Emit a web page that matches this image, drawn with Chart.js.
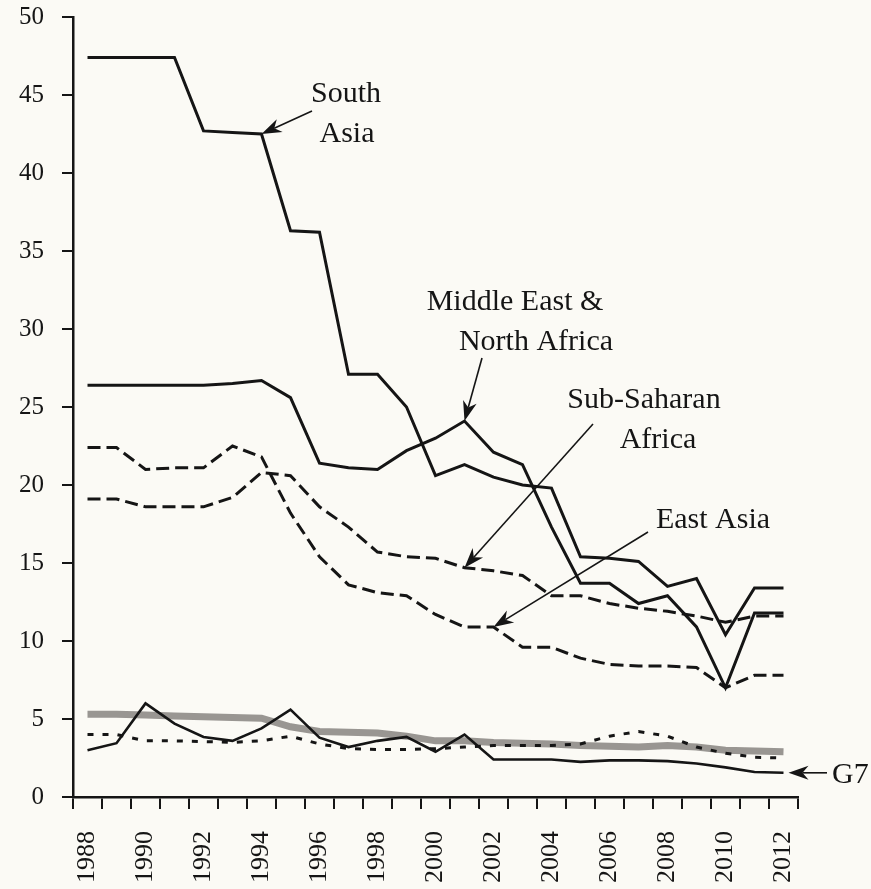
<!DOCTYPE html>
<html>
<head>
<meta charset="utf-8">
<script src="https://cdn.jsdelivr.net/npm/chart.js@4"></script>
<style>
    body { margin: 0; background: #fbfaf5; }
    #wrap { width: 871px; height: 889px; }
</style>
</head>
<body>
<div id="wrap"><canvas id="chart" width="871" height="889"></canvas></div>
<script>
const years = ["1988","1989","1990","1991","1992","1993","1994","1995","1996","1997","1998","1999",
    "2000","2001","2002","2003","2004","2005","2006","2007","2008","2009","2010","2011","2012"];
const yTicks = [0, 5, 10, 15, 20, 25, 30, 35, 40, 45, 50];

const southAsia  = [47.4,47.4,47.4,47.4,42.7,42.6,42.5,36.3,36.2,27.1,27.1,25.0,20.6,21.3,20.5,20.0,19.8,15.4,15.3,15.1,13.5,14.0,10.4,13.4,13.4];
const mena       = [26.4,26.4,26.4,26.4,26.4,26.5,26.7,25.6,21.4,21.1,21.0,22.2,23.0,24.1,22.1,21.3,17.3,13.7,13.7,12.4,12.9,10.9,7.0,11.8,11.8];
const subSaharan = [19.1,19.1,18.6,18.6,18.6,19.2,20.8,20.6,18.6,17.3,15.7,15.4,15.3,14.7,14.5,14.2,12.9,12.9,12.4,12.1,11.9,11.6,11.2,11.6,11.6];
const eastAsia   = [22.4,22.4,21.0,21.1,21.1,22.5,21.8,18.2,15.4,13.6,13.1,12.9,11.7,10.9,10.9,9.6,9.6,8.9,8.5,8.4,8.4,8.3,7.0,7.8,7.8];
const g7         = [3.0,3.45,6.0,4.7,3.85,3.6,4.4,5.6,3.8,3.2,3.6,3.85,2.9,4.0,2.4,2.4,2.4,2.25,2.35,2.35,2.3,2.15,1.9,1.6,1.55];
const dottedLine = [4.0,4.0,3.6,3.6,3.55,3.5,3.6,3.9,3.4,3.1,3.05,3.05,3.1,3.2,3.3,3.3,3.3,3.4,3.9,4.2,3.9,3.2,2.8,2.55,2.5];
const grayLine   = [5.3,5.3,5.25,5.2,5.15,5.1,5.05,4.5,4.2,4.15,4.1,3.9,3.6,3.6,3.5,3.45,3.4,3.3,3.25,3.2,3.3,3.2,3.0,2.95,2.9];

const ink = "#151515";
const serif = "'Liberation Serif', 'DejaVu Serif', serif";

// labels + arrows, tips sit on data points
const notes = [
    { lines: [["South", 346, 102], ["Asia", 347, 142]], from: [312, 111], data: southAsia, idx: 6 },
    { lines: [["Middle East &", 515, 310], ["North Africa", 536, 350]], from: [482, 358], data: mena, idx: 13 },
    { lines: [["Sub-Saharan", 644, 408], ["Africa", 658, 448]], from: [593, 424], data: subSaharan, idx: 13 },
    { lines: [["East Asia", 713, 528]], from: [648, 532], data: eastAsia, idx: 14 },
    { lines: [], from: [827, 0], data: g7, idx: 24, dx: 5, flat: true }
];

function arrow(ctx, x0, y0, x1, y1) {
    const ang = Math.atan2(y1 - y0, x1 - x0);
    const len = 20, half = 7;
    const c = Math.cos(ang), s = Math.sin(ang);
    ctx.beginPath();
    ctx.moveTo(x0, y0);
    ctx.lineTo(x1 - c * len * 0.7, y1 - s * len * 0.7);
    ctx.stroke();
    ctx.beginPath();
    ctx.moveTo(x1, y1);
    ctx.lineTo(x1 - c * len - s * half, y1 - s * len + c * half);
    ctx.lineTo(x1 - c * len * 0.7, y1 - s * len * 0.7);
    ctx.lineTo(x1 - c * len + s * half, y1 - s * len - c * half);
    ctx.closePath();
    ctx.fill();
}

const annotate = {
    id: "annotate",
    afterDatasetsDraw(chart) {
        const ctx = chart.ctx;
        const xs = chart.scales.x, ys = chart.scales.y;
        ctx.save();
        ctx.fillStyle = ink;
        ctx.strokeStyle = ink;
        ctx.lineWidth = 1.6;
        ctx.font = "30px " + serif;
        ctx.textAlign = "center";
        notes.forEach(n => {
            n.lines.forEach(l => ctx.fillText(l[0], l[1], l[2]));
            const tx = xs.getPixelForValue(n.idx) + (n.dx || 0);
            const ty = ys.getPixelForValue(n.data[n.idx]);
            const fy = n.flat ? ty : n.from[1];
            arrow(ctx, n.from[0], fy, tx, ty);
        });
        // G7 text
        const gy = ys.getPixelForValue(g7[24]);
        ctx.textAlign = "left";
        ctx.fillText("G7", 832, gy + 10);
        ctx.restore();
    }
};

function line(data, opts) {
    return Object.assign({
        data: data,
        borderColor: ink,
        borderWidth: 3,
        pointRadius: 0,
        tension: 0,
        fill: false,
        borderJoinStyle: "miter"
    }, opts);
}

new Chart(document.getElementById("chart"), {
    type: "line",
    data: {
        labels: years,
        datasets: [
            line(southAsia, { label: "South Asia" }),
            line(mena, { label: "Middle East & North Africa" }),
            line(subSaharan, { label: "Sub-Saharan Africa", borderDash: [13, 6] }),
            line(eastAsia, { label: "East Asia", borderDash: [13, 6] }),
            line(g7, { label: "G7", borderWidth: 2.6 }),
            line(dottedLine, { label: "other", borderDash: [6, 9] }),
            line(grayLine, { label: "other 2", borderColor: "rgba(135,132,128,0.85)", borderWidth: 7 })
        ]
    },
    options: {
        responsive: false,
        animation: false,
        layout: { padding: { top: 17, right: 73, left: 0, bottom: 0 } },
        plugins: { legend: { display: false }, tooltip: { enabled: false } },
        scales: {
            x: {
                offset: true,
                grid: { offset: true, drawOnChartArea: false, drawTicks: true, tickLength: 12, color: ink, lineWidth: 2 },
                border: { color: ink, width: 2.5 },
                ticks: {
                    autoSkip: false,
                    minRotation: 90,
                    maxRotation: 90,
                    padding: 22,
                    color: ink,
                    font: { family: serif, size: 26 },
                    callback: (v, i) => (i % 2 === 0 ? years[i] : "")
                },
                afterFit: (s) => { s.height = 92; s.paddingLeft = 0; s.paddingRight = 0; }
            },
            y: {
                min: 0,
                max: 50,
                afterBuildTicks: (s) => { s.ticks = yTicks.map(v => ({ value: v })); },
                grid: { drawOnChartArea: false, drawTicks: true, tickLength: 11, color: ink, lineWidth: 2 },
                border: { color: ink, width: 2.5 },
                ticks: {
                    padding: 18,
                    color: ink,
                    font: { family: serif, size: 25 }
                },
                afterFit: (s) => { s.width = 73; s.paddingTop = 0; s.paddingBottom = 0; }
            }
        }
    },
    plugins: [annotate]
});
</script>
</body>
</html>
